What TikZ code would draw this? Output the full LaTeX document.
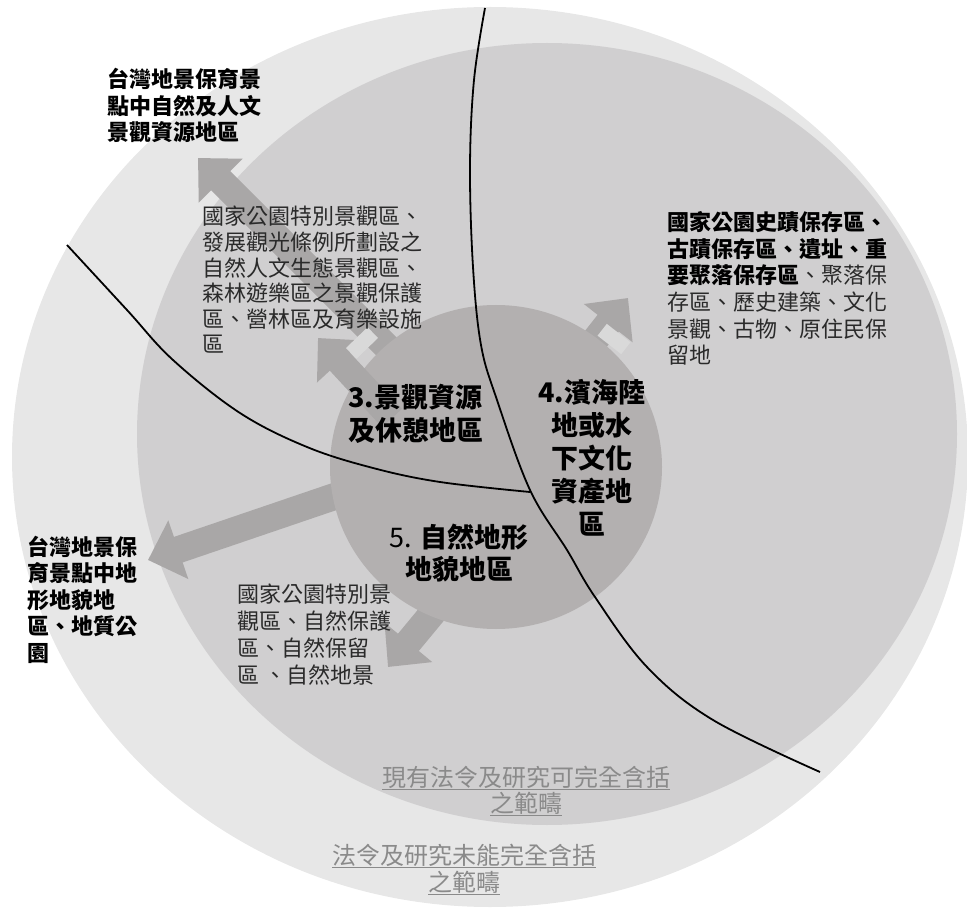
\documentclass[tikz,border=0pt]{standalone}
\usepackage{fontspec}
\setmainfont{Noto Sans CJK TC}
\usetikzlibrary{arrows.meta}
\definecolor{ringOut}{HTML}{E7E7E7}
\definecolor{ringMid}{HTML}{D0CFD0}
\definecolor{ringIn}{HTML}{B3B0B0}
\definecolor{arrowGray}{HTML}{A9A7A7}
\definecolor{patchGray}{HTML}{D9D9D9}
\definecolor{scopeGray}{HTML}{8A8A8A}
\definecolor{noteGray}{HTML}{2A2A2A}
\def\sz#1#2{\fontsize{#1}{#2}\selectfont}

\begin{document}
\begin{tikzpicture}[x=1pt,y=-1pt,
		bigArrow/.style={draw=arrowGray, line width=27pt, -{Triangle[length=32pt,width=60pt]}},
		gapPatch/.style={fill=patchGray, inner sep=0pt, minimum width=15pt, minimum height=30pt},
		edgeLine/.style={line width=1.8pt, black},
		txt/.style={inner sep=0pt, anchor=base west, align=left}]
			%%%%% START %%%%%
			\useasboundingbox (0,0) rectangle (967,909);
			
			% rings
			\fill[ringOut] (490,457) ellipse [x radius=478, y radius=450];
			\fill[ringMid] (547,434) ellipse [x radius=410, y radius=391];
			
			% arrows out of the core
			\draw[bigArrow] (420,380) -- (198,158);
			\draw[bigArrow] (540,410) -- (628,298);
			\draw[bigArrow] (380,481) -- (148,560);
			\draw[bigArrow] (460,580) -- (388,667);
			
			\fill[ringIn] (496,467) ellipse [x radius=166, y radius=162];
			
			% short heads and light gaps at the core edge
			\draw[bigArrow] (392,418) -- (318,338);
			\node[gapPatch, rotate=134] (gapNW) at (362,343) {};
			\node[gapPatch, rotate=52] (gapNE) at (614,339) {};
			
			% dividing curves
			\draw[edgeLine] plot[smooth, tension=0.6] coordinates {(485,8) (474,80) (470,167) (473,267) (481,345) (497,400) (530,490) (567,550) (595,597) (647,667) (713,720) (820,772)};
			\draw[edgeLine] plot[smooth, tension=0.6] coordinates {(67,245) (127,310) (173,360) (240,413) (307,447) (373,468) (440,482) (530,492)};
			
			% outer labels (base = last line)
			\node[txt, font=\sz{22}{26.5}\bfseries] (tLandscape) at (107,141) {台灣地景保育景\\點中自然及人文\\景觀資源地區};
			\node[txt, font=\sz{22}{26.5}\bfseries] (tGeology) at (27,661) {台灣地景保\\育景點中地\\形地貌地\\區、地質公\\園};
			
			% middle ring notes
			\node[txt, font=\sz{22}{25.6}, text=noteGray] (nLandscape) at (202,353) {國家公園特別景觀區、\\發展觀光條例所劃設之\\自然人文生態景觀區、\\森林遊樂區之景觀保護\\區、營林區及育樂設施\\區};
			\node[txt, font=\sz{22}{26.7}, text=noteGray] (nHeritage) at (667,364) {{\bfseries\color{black}國家公園史蹟保存區、}\\{\bfseries\color{black}古蹟保存區、遺址、重}\\{\bfseries\color{black}要聚落保存區}、聚落保\\存區、歷史建築、文化\\景觀、古物、原住民保\\留地};
			\node[txt, font=\sz{22}{26.7}, text=noteGray] (nNature) at (237,683) {國家公園特別景\\觀區、自然保護\\區、自然保留\\區 、自然地景};
			
			% core labels
			\node[txt, font=\sz{27}{33}\bfseries] (cScenic) at (348,440) {3.景觀資源\\及休憩地區};
			\node[inner sep=0pt, anchor=base, align=center, font=\sz{27}{33}\bfseries] (cCoast) at (592,534) {4.濱海陸\\地或水\\下文化\\資產地\\區};
			\node[inner sep=0pt, anchor=base, align=center, font=\sz{27}{32}\bfseries] (cTerrain) at (459,579) {{\mdseries 5.} 自然地形\\地貌地區};
			
			% scope captions
			\node[inner sep=0pt, anchor=base, align=center, font=\sz{24}{26}, text=scopeGray] (sCovered) at (526,812) {\underline{現有法令及研究可完全含括}\\\underline{之範疇}};
			\node[inner sep=0pt, anchor=base, align=center, font=\sz{24}{27}, text=scopeGray] (sUncovered) at (464,891) {\underline{法令及研究未能完全含括}\\\underline{之範疇}};
			%%%%% END %%%%%
\end{tikzpicture}
\end{document}
